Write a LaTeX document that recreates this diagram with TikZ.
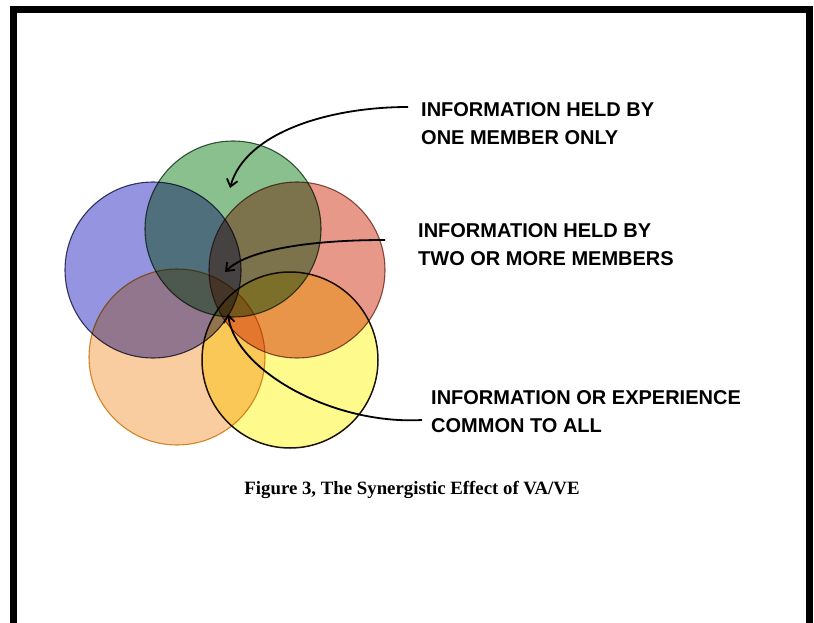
\documentclass[tikz,border=0pt]{standalone}
\usepackage{fontspec}
\setmainfont{Liberation Serif}
\newfontfamily\labelfont{Liberation Sans}
\usetikzlibrary{positioning,arrows.meta}
\definecolor{memberblue}{RGB}{148,148,225}
\definecolor{membergreen}{RGB}{137,192,142}
\definecolor{memberred}{RGB}{232,152,136}
\definecolor{memberorange}{RGB}{250,205,160}
\definecolor{memberyellow}{RGB}{255,250,140}
\definecolor{rimorange}{RGB}{215,150,50}

\begin{document}
\begin{tikzpicture}[x=1pt,y=-1pt,
		member/.style={circle,minimum size=176pt,inner sep=0pt,line width=1.1pt},
		info/.style={anchor=north west,inner sep=0pt,align=left,
			font=\labelfont\bfseries\fontsize{20}{28}\selectfont},
		pointer/.style={line width=1.8pt,-{Straight Barb[length=7pt,width=11pt]}}
		]
	\useasboundingbox (0,0) rectangle (814,623);
	\draw[line width=7pt] (13.5,623) -- (13.5,10) -- (809.5,10) -- (809.5,623);
	\begin{scope}[blend mode=multiply]
		\node[member,fill=memberblue,draw=memberblue!45!black] (blue) at (153,270) {};
		\node[member,fill=memberred,draw=memberred!60!black] (red) at (297,270) {};
		\node[member,fill=membergreen,draw=membergreen!50!black] (green) at (233,229) {};
		\node[member,fill=memberorange,draw=rimorange] (orange) at (177,357) {};
		\node[member,fill=memberyellow,draw=black!85!brown,line width=1.5pt] (yellow) at (290,360) {};
	\end{scope}
	\coordinate (solo) at (230,188);
	\coordinate (shared) at (225,272);
	\coordinate (common) at (228,314);
	\node[info] (one) at (421,102) {INFORMATION HELD BY\\ONE MEMBER ONLY};
	\node[info] (two) at (418,223) {INFORMATION HELD BY\\TWO OR MORE MEMBERS};
	\node[info] (three) at (431,390) {INFORMATION OR EXPERIENCE\\COMMON TO ALL};
	\draw[pointer] ([shift={(-13,5)}]one.north west) .. controls +(-80,0) and +(15,-55) .. (solo);
	\draw[pointer] ([shift={(-33,17)}]two.north west) .. controls +(-85,0) and +(20,-20) .. (shared);
	\draw[pointer] ([shift={(-9,30)}]three.north west) .. controls +(-90,5) and +(7,56) .. (common);
	\node[font=\bfseries\fontsize{18.8}{22}\selectfont] (caption) at (412,490) {Figure 3, The Synergistic Effect of VA/VE};
\end{tikzpicture}
\end{document}
